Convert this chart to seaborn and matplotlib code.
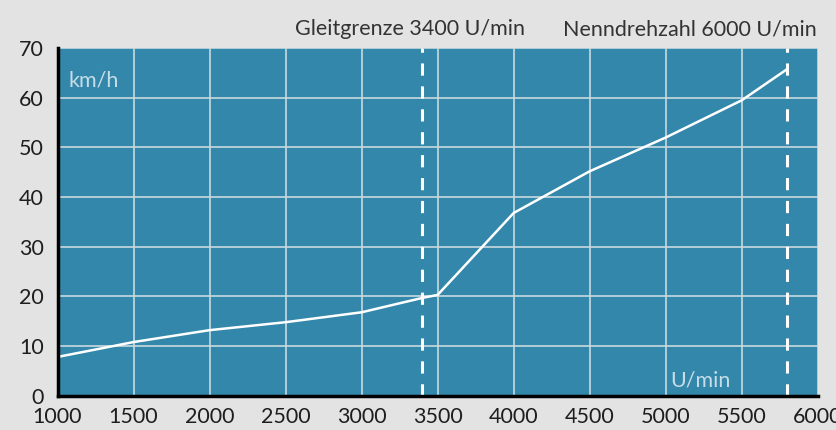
import matplotlib
matplotlib.use("Agg")
import matplotlib.pyplot as plt
import seaborn as sns
import pandas as pd

rpm = [1000, 1500, 2000, 2500, 3000, 3400, 3500, 4000, 4500, 5000, 5500, 5800]
speed = [7.8, 10.8, 13.2, 14.8, 16.8, 19.7, 20.3, 36.8, 45.2, 52.0, 59.5, 65.8]
x_ticks = [1000, 1500, 2000, 2500, 3000, 3500, 4000, 4500, 5000, 5500, 6000]
y_ticks = [0, 10, 20, 30, 40, 50, 60, 70]
markers_rpm = [3400, 5800]
top_labels = ["Gleitgrenze 3400 U/min", "Nenndrehzahl 6000 U/min"]

sns.set_style("white")
plt.rcParams['font.family'] = ['Lato', 'DejaVu Sans']
FS = 15.5
FW = "normal"

df = pd.DataFrame({"rpm": rpm, "speed": speed})

fig = plt.figure(figsize=(8.37, 4.30), dpi=100, facecolor="#e3e3e3")
ax = fig.add_axes([0.0687, 0.0798, 0.977 - 0.0687, 0.888 - 0.0798])
ax.set_facecolor("#3387aa")

ax.set_xlim(1000, 6000)
ax.set_ylim(0, 70)
ax.set_xticks(x_ticks)
ax.set_yticks(y_ticks)
ax.grid(True, color="#c9d9e0", linewidth=1.2)
ax.set_axisbelow(True)

for xv in markers_rpm:
    ax.axvline(xv, color="white", linewidth=2.2, linestyle=(0, (4, 3.5)), zorder=3)

sns.lineplot(data=df, x="rpm", y="speed", ax=ax, color="white", linewidth=1.8, zorder=4)

for s in ["top", "right"]:
    ax.spines[s].set_visible(False)
for s in ["left", "bottom"]:
    ax.spines[s].set_color("black")
    ax.spines[s].set_linewidth(2.5)
    ax.spines[s].set_zorder(5)

ax.tick_params(axis="both", length=3, width=2.5, color="black", labelsize=FS,
               labelcolor="#1e1e1e")
ax.tick_params(axis="x", pad=5)
ax.tick_params(axis="y", pad=7)
ax.set_xlabel("")
ax.set_ylabel("")

ax.text(0.014, 0.935, "km/h", transform=ax.transAxes, color="#c6dce6",
        fontsize=FS, fontweight=FW, ha="left", va="top")
ax.text(0.806, 0.016, "U/min", transform=ax.transAxes, color="#c6dce6",
        fontsize=FS, fontweight=FW, ha="left", va="bottom")

fig.text(525 / 837, 1 - 35 / 430, top_labels[0], color="#333333", fontsize=FS,
         fontweight=FW, ha="right", va="baseline")
fig.text(817 / 837, 1 - 35 / 430, top_labels[1], color="#333333", fontsize=FS,
         fontweight=FW, ha="right", va="baseline")

fig.savefig("out.png", dpi=100, facecolor=fig.get_facecolor())
